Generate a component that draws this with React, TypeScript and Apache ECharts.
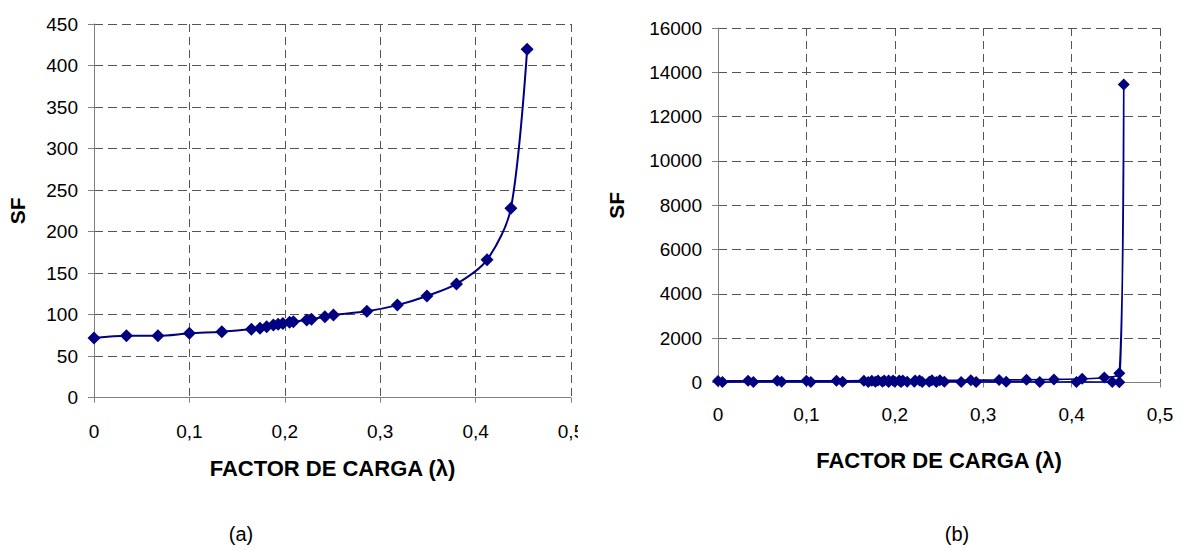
import React, { useEffect, useRef } from "react";
import * as echarts from "echarts";

// (a) load factor λ against SF along the loading path
const lambdaA = [
  0, 0.034, 0.067, 0.1, 0.134, 0.165, 0.174, 0.181, 0.188, 0.193, 0.198, 0.205,
  0.209, 0.223, 0.228, 0.242, 0.251, 0.286, 0.318, 0.349, 0.38, 0.412, 0.437, 0.454,
];
const sfA = [
  72, 74.5, 74.5, 77.5, 79.5, 82.5, 83.5, 85.5, 87.5, 88.5, 89.5, 91,
  91.5, 93.5, 94.5, 97.5, 99.5, 104, 111.5, 122.5, 137, 166, 228, 419.5,
];

// (b) same path, then the peak and the way back down to λ ≈ 0
const lambdaPeak = [0.459];
const sfPeak = [13450];
const lambdaBack = [
  0.454, 0.446, 0.4055, 0.364, 0.326, 0.292, 0.275, 0.256, 0.247, 0.239, 0.231,
  0.222, 0.214, 0.207, 0.2, 0.193, 0.186, 0.178, 0.17, 0.141, 0.105, 0.072, 0.04, 0.005,
];
const sfBack = [
  12, 20, 26, 22, 30, 24, 28, 33, 27, 31, 25,
  34, 29, 26, 32, 28, 35, 30, 27, 33, 25, 31, 28, 18,
];

const yTicksA = { min: 0, max: 450, interval: 50 };
const yTicksB = { min: 0, max: 16000, interval: 2000 };
const xTicks = { min: 0, max: 0.5, interval: 0.1 };

const NAVY = "#000080";
const AXIS = "#808080";
const GRID = "#555555";
const FONT = "Liberation Sans";

const fmtLambda = (v: number) => (v === 0 ? "0" : v.toFixed(1).replace(".", ","));
const fmtPlain = (v: number) => String(Math.round(v));

function xAxisFor(gridIndex: number, nameGap: number, margin: number) {
  return {
    gridIndex,
    type: "value",
    ...xTicks,
    name: "FACTOR DE CARGA (λ)",
    nameLocation: "middle",
    nameGap,
    nameTextStyle: { fontFamily: FONT, fontWeight: "bold", fontSize: 22, color: "#000" },
    axisLine: { onZero: false, lineStyle: { color: AXIS, width: 1 } },
    axisTick: { length: 5, lineStyle: { color: AXIS } },
    axisLabel: { fontFamily: FONT, fontSize: 19, color: "#000", margin, formatter: fmtLambda },
    splitLine: { show: true, lineStyle: { type: [8, 5], color: GRID, width: 1 } },
  };
}

function yAxisFor(gridIndex: number, ticks: any, nameGap: number) {
  return {
    gridIndex,
    type: "value",
    ...ticks,
    name: "SF",
    nameLocation: "middle",
    nameGap,
    nameTextStyle: { fontFamily: FONT, fontWeight: "bold", fontSize: 21, color: "#000" },
    axisLine: { show: true, onZero: false, lineStyle: { color: AXIS, width: 1 } },
    axisTick: { show: true, length: 6, lineStyle: { color: AXIS } },
    axisLabel: { fontFamily: FONT, fontSize: 19, color: "#000", margin: 16, formatter: fmtPlain },
    splitLine: { show: true, lineStyle: { type: [9, 5], color: GRID, width: 1 } },
  };
}

export default function App() {
  const ref = useRef<HTMLDivElement>(null);

  useEffect(() => {
    if (!ref.current) return;
    const chart = echarts.init(ref.current, undefined, { renderer: "svg" });

    const dataA = lambdaA.map((x, i) => [x, sfA[i]]);
    const lambdaB = [...lambdaA, ...lambdaPeak, ...lambdaBack];
    const sfB = [...sfA, ...sfPeak, ...sfBack];
    const dataB = lambdaB.map((x, i) => [x, sfB[i]]);

    chart.setOption({
      animation: false,
      backgroundColor: "#fff",
      textStyle: { fontFamily: FONT },
      grid: [
        { left: 94, top: 24, width: 477, height: 373.7 },
        { left: 718, top: 28, width: 442, height: 354.5 },
      ],
      xAxis: [xAxisFor(0, 60, 24), xAxisFor(1, 67, 22)],
      yAxis: [yAxisFor(0, yTicksA, 66), yAxisFor(1, yTicksB, 91)],
      series: [
        {
          type: "line",
          xAxisIndex: 0,
          yAxisIndex: 0,
          data: dataA,
          smooth: 0.3,
          clip: false,
          symbol: "diamond",
          symbolSize: 13,
          lineStyle: { color: NAVY, width: 2 },
          itemStyle: { color: NAVY },
        },
        {
          type: "line",
          xAxisIndex: 1,
          yAxisIndex: 1,
          data: dataB,
          smooth: 0.3,
          clip: false,
          symbol: "diamond",
          symbolSize: 12,
          lineStyle: { color: NAVY, width: 1.6 },
          itemStyle: { color: NAVY },
        },
      ],
      graphic: [
        // the left panel ends just past its last tick label
        { type: "rect", left: 578, top: 412, shape: { width: 22, height: 34 }, style: { fill: "#fff" }, z: 100 },
        {
          type: "text",
          x: 241,
          y: 534,
          style: { text: "(a)", fontFamily: FONT, fontSize: 20, fill: "#000", align: "center", verticalAlign: "middle" },
        },
        {
          type: "text",
          x: 957,
          y: 534,
          style: { text: "(b)", fontFamily: FONT, fontSize: 20, fill: "#000", align: "center", verticalAlign: "middle" },
        },
      ],
    });

    return () => chart.dispose();
  }, []);

  return (
    <div
      ref={ref}
      style={{ position: "fixed", left: 0, top: 0, width: 1183, height: 550, background: "#fff" }}
    />
  );
}
